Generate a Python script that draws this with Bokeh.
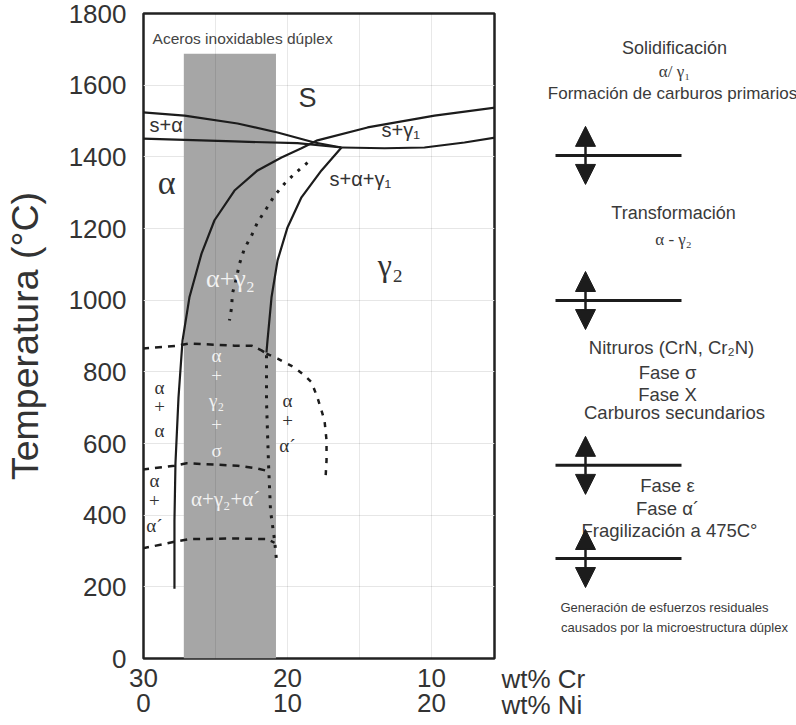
from bokeh.plotting import figure
from bokeh.layouts import row
from bokeh.models import Range1d, LinearAxis, FixedTicker, Label, Arrow, NormalHead
from bokeh.embed import file_html
from bokeh.resources import INLINE

# ---------------- data (x = wt% Cr, y = temperature in °C) ----------------
temp_ticks = [0, 200, 400, 600, 800, 1000, 1200, 1400, 1600, 1800]
cr_ticks = [30, 20, 10]
ni_ticks = [0, 10, 20]
cr_grid = [25, 20, 15, 10]

duplex_cr = [27.2, 20.8]
duplex_t = [0, 1688]

# liquidus of alpha (upper boundary of s+alpha)
liq_a_cr = [30.1, 27.15, 23.47, 20.69, 18.13, 16.25]
liq_a_t = [1524, 1515, 1493, 1468, 1440, 1426]
# solidus of alpha (lower boundary of s+alpha)
sol_a_cr = [30.1, 23.68, 19.31, 16.25]
sol_a_t = [1451, 1443, 1438, 1426]
# solidus of gamma (lower boundary of s+gamma1)
sol_g_cr = [16.25, 13.26, 10.49, 7.71, 5.5]
sol_g_t = [1426, 1424, 1426, 1440, 1454]
# alpha / alpha+gamma boundary continuing into the gamma liquidus
bnd_l_cr = [27.85, 27.85, 27.78, 27.57, 27.29, 26.81, 25.97, 25.07, 23.68,
            22.08, 20.42, 19.03, 17.92, 14.44, 9.79, 5.5]
bnd_l_t = [195, 385, 545, 728, 887, 1008, 1130, 1223, 1306,
           1362, 1398, 1424, 1446, 1482, 1515, 1538]
# alpha+gamma / gamma boundary
bnd_r_cr = [16.25, 17.64, 19.03, 20.0, 20.69, 21.11, 21.39, 21.46]
bnd_r_t = [1426, 1362, 1287, 1203, 1111, 1008, 887, 854]
# dotted continuation of the right boundary
bnd_r2_cr = [21.46, 21.46, 21.32, 21.18, 20.9, 20.76]
bnd_r2_t = [846, 720, 545, 413, 330, 273]
# dotted curve inside alpha+gamma2
dot_ag_cr = [18.61, 19.51, 20.21, 20.9, 21.46, 22.08, 22.5, 22.99, 23.33, 23.54, 23.82, 23.89, 24.03]
dot_ag_t = [1384, 1353, 1325, 1292, 1256, 1217, 1180, 1144, 1102, 1063, 1019, 977, 943]
# dashed upper sigma boundary
sigma_top_cr = [30.1, 27.64, 26.81, 23.68, 22.5, 21.81, 21.46]
sigma_top_t = [865, 873, 879, 873, 873, 860, 851]
# dashed alpha' dome
dome_cr = [21.46, 20.69, 19.51, 18.82, 18.33, 17.92, 17.64, 17.43, 17.29, 17.29, 17.36]
dome_t = [851, 837, 812, 790, 771, 728, 692, 664, 609, 553, 502]
# dashed middle boundary
mid_cr = [30.1, 27.85, 27.01, 23.47, 22.08, 21.46]
mid_t = [527, 538, 545, 538, 530, 524]
# dashed lower boundary
low_cr = [30.1, 28.54, 27.71, 26.81, 23.68, 21.39, 20.9]
low_t = [307, 320, 327, 333, 335, 333, 323]

# temperatures of the process limits on the right-hand side
limit_t = [1404, 999, 539, 279]

# ---------------- styles ----------------
SANS = "'Liberation Sans', Arial, sans-serif"
SERIF = "'Liberation Serif', 'Times New Roman', serif"
INK = "#1c1c1c"
TXT = "#333333"
NOTE = "#3a3a3a"

# ---------------- main diagram ----------------
p = figure(
    output_backend="svg", toolbar_location=None,
    x_range=Range1d(30, 5.625), y_range=Range1d(0, 1800),
    frame_width=351, frame_height=645,
    min_border_left=139, min_border_right=2, min_border_top=13, min_border_bottom=67,
    x_axis_location=None, y_axis_location=None,
    background_fill_color="white", border_fill_color="white",
)
p.outline_line_color = "#222222"
p.outline_line_width = 2.5
p.outline_line_alpha = 1

yax = LinearAxis(
    ticker=FixedTicker(ticks=temp_ticks),
    axis_label="Temperatura (°C)",
    axis_label_text_font=SANS, axis_label_text_font_size="37.5px",
    axis_label_text_font_style="normal", axis_label_text_color=TXT,
    axis_label_standoff=20,
    major_label_text_font=SANS, major_label_text_font_size="26px",
    major_label_text_color=TXT, major_label_standoff=11,
    axis_line_color=None, major_tick_line_color=None, minor_tick_line_color=None,
)
p.add_layout(yax, "left")

xax = LinearAxis(
    ticker=FixedTicker(ticks=cr_ticks),
    major_label_text_font=SANS, major_label_text_font_size="26px",
    major_label_text_color=TXT, major_label_standoff=4,
    axis_line_color=None, major_tick_line_color=None, minor_tick_line_color=None,
)
p.add_layout(xax, "below")

# Ni axis (Ni = 30 - Cr)
p.extra_x_ranges = {"ni": Range1d(30 - 30, 30 - 5.625)}
nax = LinearAxis(
    x_range_name="ni",
    ticker=FixedTicker(ticks=ni_ticks),
    major_label_text_font=SANS, major_label_text_font_size="26px",
    major_label_text_color=TXT, major_label_standoff=-2,
    axis_line_color=None, major_tick_line_color=None, minor_tick_line_color=None,
)
p.add_layout(nax, "below")

p.xgrid.ticker = FixedTicker(ticks=cr_grid)
p.xgrid.grid_line_color = "black"
p.xgrid.grid_line_alpha = 0.09
p.xgrid.level = "overlay"
p.ygrid.ticker = FixedTicker(ticks=temp_ticks)
p.ygrid.grid_line_color = "#e6e6e6"

p.quad(left=duplex_cr[0], right=duplex_cr[1], bottom=duplex_t[0], top=duplex_t[1],
       fill_color="#a6a6a6", line_color=None)

solid = dict(line_color=INK, line_width=2.2)
p.line(liq_a_cr, liq_a_t, **solid)
p.line(sol_a_cr, sol_a_t, **solid)
p.line(sol_g_cr, sol_g_t, **solid)
p.line(bnd_l_cr, bnd_l_t, **solid)
p.line(bnd_r_cr, bnd_r_t, **solid)

dotted = dict(line_color=INK, line_width=3, line_dash="3 7")
p.line(bnd_r2_cr, bnd_r2_t, **dotted)
p.line(dot_ag_cr, dot_ag_t, **dotted)

dashed = dict(line_color=INK, line_width=2.5, line_dash="7 6")
p.line(sigma_top_cr, sigma_top_t, **dashed)
p.line(dome_cr, dome_t, line_color=INK, line_width=2.5, line_dash="5 7")
p.line(mid_cr, mid_t, **dashed)
p.line(low_cr, low_t, **dashed)


def lab(fig, x, y, text, size="18px", font=SANS, color=TXT, align="center"):
    fig.add_layout(Label(x=x, y=y, text=text, text_font=font, text_font_size=size,
                         text_color=color, text_align=align, text_baseline="middle",
                         text_font_style="normal"))


lab(p, 29.37, 1730, "Aceros inoxidables dúplex", size="15.5px", color="#444444", align="left")
lab(p, 18.61, 1563, "S", size="27px")
lab(p, 29.58, 1488, "s+α", size="20px", align="left")
lab(p, 13.47, 1474, "s+γ₁", size="20px", align="left")
lab(p, 28.4, 1328, "α", size="34px", font=SERIF)
lab(p, 17.08, 1339, "s+α+γ₁", size="20px", align="left")
lab(p, 12.85, 1097, "γ₂", size="32px", font=SERIF)
lab(p, 23.96, 1061, "α+γ₂", size="26px", font=SERIF, color="#f2f2f2")
for t, s in zip([846, 790, 720, 653, 581], ["α", "+", "γ₂", "+", "σ"]):
    lab(p, 24.93, t, s, size="19px", font=SERIF, color="#f2f2f2")
for t, s in zip([756, 703, 636], ["α", "+", "α"]):
    lab(p, 28.89, t, s, size="19px", font=SERIF, color="#333333")
for t, s in zip([496, 441, 371], ["α", "+", "α´"]):
    lab(p, 29.24, t, s, size="19px", font=SERIF, color="#333333")
for t, s in zip([720, 664, 595], ["α", "+", "α´"]):
    lab(p, 20.0, t, s, size="19px", font=SERIF, color="#333333")
lab(p, 24.3, 446, "α+γ₂+α´", size="21px", font=SERIF, color="#f2f2f2")

# ---------------- right-hand notes panel (same temperature scale) ----------------
q = figure(
    output_backend="svg", toolbar_location=None,
    x_range=Range1d(0, 304), y_range=Range1d(-187.0, 1800),
    frame_width=304, frame_height=712,
    min_border_left=0, min_border_right=0, min_border_top=13, min_border_bottom=0,
    x_axis_location=None, y_axis_location=None,
    background_fill_color="white", border_fill_color="white",
)
q.outline_line_color = None
q.grid.visible = False

XC = 181
lab(q, XC - 3, 1705, "Solidificación", size="18px", color=NOTE)
lab(q, XC - 3, 1638, "α/ γ₁", size="17px", font=SERIF, color=NOTE)
lab(q, XC - 5, 1577, "Formación de carburos primarios", size="17px", color=NOTE)
lab(q, XC - 4, 1242, "Transformación", size="18px", color=NOTE)
lab(q, XC - 4, 1170, "α - γ₂", size="17px", font=SERIF, color=NOTE)
lab(q, XC - 6, 868, "Nitruros (CrN, Cr₂N)", size="18.5px", color=NOTE)
lab(q, XC - 10, 797, "Fase σ", size="18.5px", color=NOTE)
lab(q, XC - 10, 737, "Fase X", size="18.5px", color=NOTE)
lab(q, XC - 3, 686, "Carburos secundarios", size="18.5px", color=NOTE)
lab(q, XC - 10, 483, "Fase ε", size="18.5px", color=NOTE)
lab(q, XC - 10, 419, "Fase α´", size="18.5px", color=NOTE)
lab(q, XC - 8, 357, "Fragilización a 475C°", size="18.5px", color=NOTE)
lab(q, XC - 13, 142, "Generación de esfuerzos residuales", size="13px", color=NOTE)
lab(q, XC - 3, 86, "causados por la microestructura dúplex", size="13px", color=NOTE)

lab(q, 5, -56, "wt% Cr", size="26px", color=TXT, align="left")
lab(q, 5, -131, "wt% Ni", size="26px", color=TXT, align="left")

for t in limit_t:
    q.add_layout(Arrow(x_start=59, y_start=t, x_end=185, y_end=t, end=None,
                       line_color=INK, line_width=3))
    q.add_layout(Arrow(x_start=89, y_start=t - 81, x_end=89, y_end=t + 81,
                       start=NormalHead(size=20, fill_color=INK, line_color=INK),
                       end=NormalHead(size=20, fill_color=INK, line_color=INK),
                       line_color=INK, line_width=2.5))

layout = row(p, q)
open("out.html", "w").write(file_html(layout, INLINE))
